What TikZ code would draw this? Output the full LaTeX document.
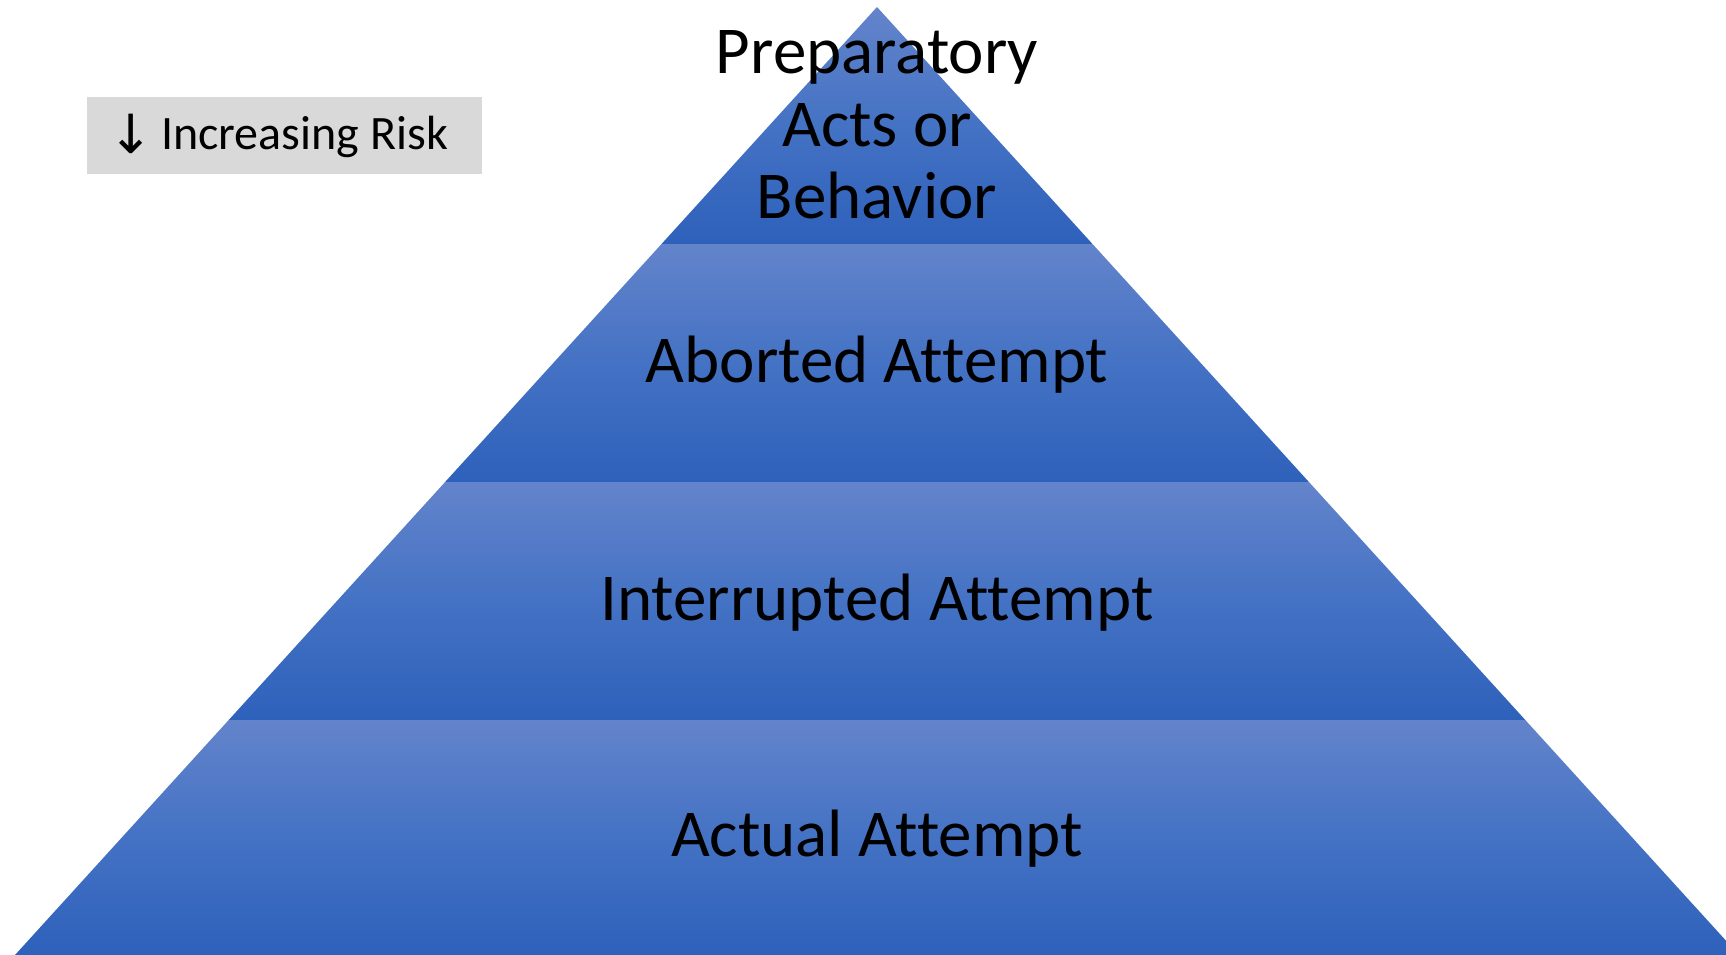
\documentclass[tikz,border=0pt]{standalone}
\usepackage{fontspec}
\setmainfont[Ligatures=NoCommon]{Carlito}
\newfontfamily\arrowfont{DejaVu Sans}
\definecolor{bandtop}{HTML}{6384CB}
\definecolor{bandmid}{HTML}{4472C4}
\definecolor{bandbot}{HTML}{2E61BB}
\definecolor{boxgray}{HTML}{D9D9D9}
\tikzset{
  band/.style={top color=bandtop, bottom color=bandbot, middle color=bandmid, draw=none},
  bandlabel/.style={text=black, font=\fontsize{67}{72.5}\selectfont, align=center, inner sep=0pt},
  riskbox/.style={fill=boxgray, draw=none, text width=395pt, align=flush left, minimum height=77pt, inner sep=0pt, font=\fontsize{48}{56}\selectfont}
}
\begin{document}
\begin{tikzpicture}[x=1pt,y=-1pt]
\useasboundingbox (0,0) rectangle (1726,955);
\begin{scope}
\clip (0,0) rectangle (1726,955);
\coordinate (apex) at (877,7);
\path[band] (apex) -- (1092.5,244) -- (661.5,244) -- cycle;
\path[band] (661.5,244) -- (1092.5,244) -- (1308.9,482) -- (445.1,482) -- cycle;
\path[band] (445.1,482) -- (1308.9,482) -- (1525.3,720) -- (228.7,720) -- cycle;
\path[band] (228.7,720) -- (1525.3,720) -- (1739,955) -- (15,955) -- cycle;
\end{scope}
\node[bandlabel] (prep) at (877,125) {Preparatory\\Acts or\\Behavior};
\node[bandlabel, anchor=base] (abort) at (877,382) {Aborted Attempt};
\node[bandlabel, anchor=base] (interr) at (877,620) {Interrupted Attempt};
\node[bandlabel, anchor=base] (actual) at (877,856) {Actual Attempt};
\node[riskbox, anchor=north west] (risk) at (87,97) {\hspace*{21pt}\makebox[53pt][l]{\raisebox{-4pt}{\arrowfont\fontsize{54}{56}\selectfont ↓}}\mbox{Increasing Risk}};
\end{tikzpicture}
\end{document}
